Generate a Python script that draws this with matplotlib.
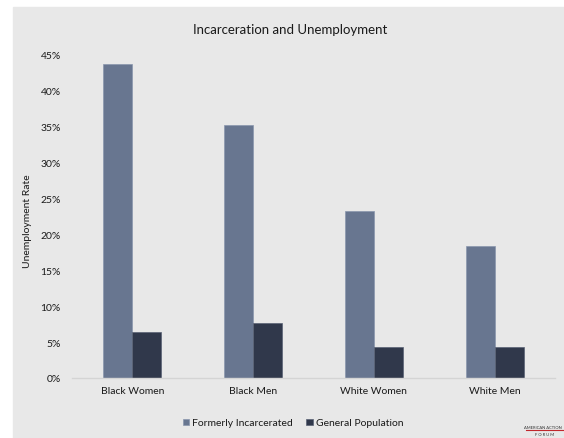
import numpy as np
import matplotlib

matplotlib.use("Agg")
import matplotlib.pyplot as plt
from matplotlib.patches import Rectangle
from matplotlib.ticker import PercentFormatter

categories = ["Black Women", "Black Men", "White Women", "White Men"]
formerly_incarcerated = [43.7, 35.3, 23.2, 18.4]
general_population = [6.4, 7.6, 4.3, 4.3]
y_ticks = [0, 5, 10, 15, 20, 25, 30, 35, 40, 45]

c_formerly = "#687690"
c_general = "#30384b"
bg = "#e8e8e8"
text_color = "#1a1a1a"

plt.rcParams["font.family"] = ["Lato", "DejaVu Sans"]

fig = plt.figure(figsize=(5.64, 4.39), dpi=100)
fig.patches.append(Rectangle((13 / 564, 0), 1 - 13 / 564, 431 / 439,
                             transform=fig.transFigure, color=bg, zorder=-10))

ax = fig.add_axes([72 / 564, 1 - 379 / 439, (555 - 72) / 564, (379 - 56) / 439])
ax.set_facecolor("none")

x = np.arange(len(categories))
w = 0.24
ax.bar(x - w / 2, formerly_incarcerated, w, color=c_formerly, edgecolor="#8a96ad",
       linewidth=0.5, label="Formerly Incarcerated")
ax.bar(x + w / 2, general_population, w, color=c_general, edgecolor="#5a6275",
       linewidth=0.5, label="General Population")

ax.set_xlim(-0.5, len(categories) - 0.5)
ax.set_ylim(0, 45)
ax.set_yticks(y_ticks)
ax.yaxis.set_major_formatter(PercentFormatter(decimals=0))
ax.set_xticks(x)
ax.set_xticklabels(categories)
ax.tick_params(axis="both", length=0, labelsize=7.5, colors=text_color)
ax.tick_params(axis="y", pad=8)
ax.tick_params(axis="x", pad=6)

for s in ["top", "right", "left"]:
    ax.spines[s].set_visible(False)
ax.spines["bottom"].set_color("#d4d4d4")
ax.spines["bottom"].set_linewidth(1.0)

ax.set_ylabel("Unemployment Rate", fontsize=7.5, color=text_color)
ax.yaxis.set_label_coords((32 - 72) / (555 - 72), 0.49)

fig.text(290 / 564, 1 - 30 / 439, "Incarceration and Unemployment",
         ha="center", va="center", fontsize=9.5, color=text_color)

fig.legend(loc="center", bbox_to_anchor=(293 / 564, 1 - 424 / 439), ncol=2,
           frameon=False, fontsize=7.5, handlelength=0.6, handleheight=0.6,
           handletextpad=0.3, columnspacing=1.3, labelcolor=text_color)

# small logo text, bottom right
fig.text(562 / 564, 1 - 428 / 439, "AMERICAN ACTION", fontsize=3.0, ha="right",
         va="center", color="#333333")
fig.lines.append(plt.Line2D([526 / 564, 1.0], [1 - 431 / 439, 1 - 431 / 439],
                            transform=fig.transFigure, color="#c0272d", lw=0.8))
fig.text(545 / 564, 1 - 435 / 439, "F O R U M", fontsize=3.0, ha="center",
         va="center", color="#333333")

fig.savefig("out.png", dpi=100)
